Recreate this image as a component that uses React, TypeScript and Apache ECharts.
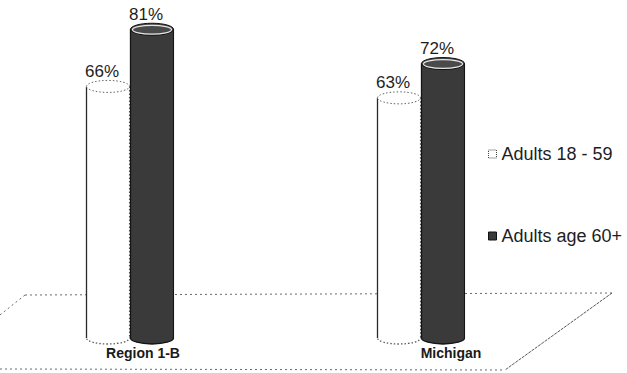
import { useEffect, useRef } from "react";
import * as echarts from "echarts";

// Share of adults, by area and age group (percent)
const regions = ["Region 1-B", "Michigan"];
const adults18to59 = [66, 63];
const adults60plus = [81, 72];
const seriesNames = ["Adults 18 - 59", "Adults age 60+"];

const FONT = '"Liberation Sans", Arial, Helvetica, sans-serif';

// Draws one 3D cylinder per category, shifted left or right of the category centre.
function cylinder(dark: boolean, offset: number) {
  return (_params: any, api: any) => {
    const idx = api.value(0);
    const val = api.value(1);
    const top = api.coord([idx, val]);
    const base = api.coord([idx, 0]);
    const cx = top[0] + offset;
    const hw = 21.5;
    const ry = 6;
    const fill = dark ? "#3a3a3a" : "#ffffff";
    const edge = dark ? "#141414" : "#5a5a5a";
    const dash = dark ? undefined : [1.5, 2];
    const children: any[] = [
      {
        type: "ellipse",
        shape: { cx, cy: base[1], rx: hw, ry },
        style: { fill, stroke: edge, lineWidth: 1.3, lineDash: dash },
      },
      {
        type: "rect",
        shape: { x: cx - hw, y: top[1], width: hw * 2, height: base[1] - top[1] },
        style: { fill },
      },
      {
        type: "line",
        shape: { x1: cx - hw, y1: top[1], x2: cx - hw, y2: base[1] },
        style: { stroke: dark ? edge : "#2a2a2a", lineWidth: 1.3 },
      },
      {
        type: "line",
        shape: { x1: cx + hw, y1: top[1], x2: cx + hw, y2: base[1] },
        style: { stroke: edge, lineWidth: 1.1, lineDash: dash },
      },
    ];
    if (dark) {
      children.push(
        {
          type: "ellipse",
          shape: { cx, cy: top[1], rx: hw, ry },
          style: { fill: "#4a4a4a", stroke: "#111", lineWidth: 1 },
        },
        {
          type: "ellipse",
          shape: { cx, cy: top[1] + 0.5, rx: hw - 2, ry: ry - 1.6 },
          style: { fill: "none", stroke: "#e6e6e6", lineWidth: 1.2 },
        }
      );
    } else {
      children.push({
        type: "ellipse",
        shape: { cx, cy: top[1], rx: hw, ry },
        style: { fill: "#ffffff", stroke: "#666", lineWidth: 1, lineDash: [1.5, 2] },
      });
    }
    children.push({
      type: "text",
      x: cx - 6,
      y: top[1] - 15,
      style: {
        text: val + "%",
        fill: "#1e1e1e",
        font: `17px ${FONT}`,
        align: "center",
        verticalAlign: "middle",
      },
    });
    return { type: "group", children };
  };
}

export default function App() {
  const ref = useRef<HTMLDivElement>(null);

  useEffect(() => {
    if (!ref.current) return;
    const chart = echarts.init(ref.current, undefined, { renderer: "svg" });
    const floorStyle = { stroke: "#6a6a6a", lineWidth: 1, lineDash: [2, 3] };
    chart.setOption({
      animation: false,
      backgroundColor: "#ffffff",
      grid: { left: 130, right: 206, top: 14, bottom: 35 },
      xAxis: {
        type: "category",
        data: regions,
        boundaryGap: false,
        axisLine: { show: false },
        axisTick: { show: false },
        axisLabel: {
          margin: 8,
          color: "#1a1a1a",
          fontFamily: FONT,
          fontSize: 14,
          fontWeight: "bold",
          formatter: (v: string, i: number) => (i === 0 ? `{r|${v}}` : `{m|${v}}`),
          rich: {
            r: { fontFamily: FONT, fontSize: 14, fontWeight: "bold", color: "#1a1a1a", padding: [0, 0, 0, 26] },
            m: { fontFamily: FONT, fontSize: 14, fontWeight: "bold", color: "#1a1a1a", padding: [0, 0, 0, 60] },
          },
        },
      },
      yAxis: { type: "value", min: 0, max: 85, show: false, splitLine: { show: false } },
      legend: {
        orient: "vertical",
        left: 488,
        top: 144,
        itemGap: 62,
        itemWidth: 8,
        itemHeight: 8,
        padding: 0,
        textStyle: { fontFamily: FONT, fontSize: 18, color: "#1e1e1e", lineHeight: 20 },
        data: [
          {
            name: seriesNames[0],
            icon: "rect",
            itemStyle: { color: "#ffffff", borderColor: "#444", borderWidth: 1, borderType: "dotted" },
          },
          { name: seriesNames[1], icon: "rect", itemStyle: { color: "#3a3a3a", borderColor: "#111", borderWidth: 1 } },
        ],
      },
      graphic: [
        { type: "line", z: 0, shape: { x1: 25, y1: 295, x2: 612, y2: 293 }, style: floorStyle },
        { type: "line", z: 0, shape: { x1: 612, y1: 293, x2: 505, y2: 370 }, style: { ...floorStyle, stroke: "#555", lineDash: [3, 1] } },
        { type: "line", z: 0, shape: { x1: 0, y1: 369, x2: 505, y2: 370 }, style: floorStyle },
        { type: "line", z: 0, shape: { x1: 25, y1: 295, x2: 0, y2: 315 }, style: floorStyle },
      ],
      series: [
        {
          name: seriesNames[0],
          type: "custom",
          z: 3,
          clip: false,
          itemStyle: { color: "#ffffff", borderColor: "#444" },
          data: adults18to59.map((v, i) => [i, v]),
          encode: { x: 0, y: 1 },
          renderItem: cylinder(false, -22),
        },
        {
          name: seriesNames[1],
          type: "custom",
          z: 3,
          clip: false,
          itemStyle: { color: "#3a3a3a" },
          data: adults60plus.map((v, i) => [i, v]),
          encode: { x: 0, y: 1 },
          renderItem: cylinder(true, 22),
        },
      ],
    });
    return () => chart.dispose();
  }, []);

  return (
    <div
      ref={ref}
      style={{ position: "fixed", left: 0, top: 0, width: 627, height: 373, background: "#fff" }}
    />
  );
}
